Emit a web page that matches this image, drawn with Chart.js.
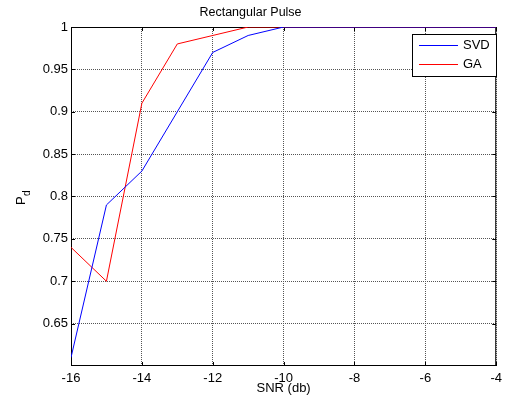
<!DOCTYPE html>
<html>
<head>
<meta charset="utf-8">
<script src="https://cdn.jsdelivr.net/npm/chart.js@4/dist/chart.umd.min.js"></script>
<style>
  body { margin: 0; background: #fff; }
  canvas { display: block; }
</style>
</head>
<body>
<canvas id="pd-chart" width="507" height="403"></canvas>
<script>
// data
const snrValues = [-16, -15, -14, -13, -12, -11, -10, -9, -8, -7, -6, -5, -4];
const svdValues = [0.61, 0.79, 0.83, 0.90, 0.97, 0.99, 1, 1, 1, 1, 1, 1, 1];
const gaValues = [0.74, 0.70, 0.91, 0.98, 0.99, 1, 1, 1, 1, 1, 1, 1, 1];
const xTickValues = [-16, -14, -12, -10, -8, -6, -4];
const yTickValues = [0.65, 0.7, 0.75, 0.8, 0.85, 0.9, 0.95, 1];

const FONT = "'Liberation Sans', Arial, sans-serif";

function toPoints(ys) {
    return snrValues.map((x, i) => ({ x: x, y: ys[i] }));
}

// frame, inward ticks, y label with subscript, legend inside the axes
const matlabLook = {
    id: "matlabLook",
    beforeDatasetsDraw(chart) {
        const ctx = chart.ctx;
        const a = chart.chartArea;
        ctx.save();
        ctx.strokeStyle = "#000";
        ctx.lineWidth = 1;
        ctx.strokeRect(a.left + 0.5, a.top + 0.5, a.right - a.left - 1, a.bottom - a.top - 1);
        const xs = chart.scales.x, ys = chart.scales.y;
        ctx.beginPath();
        xTickValues.forEach(v => {
            const px = Math.round(xs.getPixelForValue(v)) + 0.5;
            ctx.moveTo(px, a.bottom); ctx.lineTo(px, a.bottom - 4);
            ctx.moveTo(px, a.top); ctx.lineTo(px, a.top + 4);
        });
        yTickValues.forEach(v => {
            const py = Math.round(ys.getPixelForValue(v)) + 0.5;
            ctx.moveTo(a.left, py); ctx.lineTo(a.left + 4, py);
            ctx.moveTo(a.right, py); ctx.lineTo(a.right - 4, py);
        });
        ctx.stroke();
        ctx.restore();
    },
    afterDraw(chart) {
        const ctx = chart.ctx;
        const a = chart.chartArea;
        ctx.save();
        // x axis label
        ctx.fillStyle = "#000";
        ctx.font = "13px " + FONT;
        ctx.textAlign = "center";
        ctx.textBaseline = "middle";
        ctx.fillText("SNR (db)", (a.left + a.right) / 2, 388);
        // y axis label P_d
        ctx.translate(21, 201);
        ctx.rotate(-Math.PI / 2);
        ctx.textAlign = "left";
        ctx.textBaseline = "alphabetic";
        ctx.font = "13px " + FONT;
        ctx.fillText("P", -4, 4);
        ctx.font = "10px " + FONT;
        ctx.fillText("d", 5, 9);
        ctx.restore();

        // legend
        ctx.save();
        const bx = 412, by = 34, bw = 84, bh = 42;
        ctx.fillStyle = "#fff";
        ctx.fillRect(bx, by, bw, bh);
        ctx.strokeStyle = "#000";
        ctx.lineWidth = 1;
        ctx.strokeRect(bx + 0.5, by + 0.5, bw, bh);
        ctx.font = "13px " + FONT;
        ctx.textBaseline = "middle";
        ctx.textAlign = "left";
        chart.data.datasets.forEach((ds, i) => {
            const ly = 45.5 + i * 19;
            ctx.strokeStyle = ds.borderColor;
            ctx.beginPath();
            ctx.moveTo(419, ly);
            ctx.lineTo(458, ly);
            ctx.stroke();
            ctx.fillStyle = "#000";
            ctx.fillText(ds.label, 463, ly);
        });
        ctx.restore();
    }
};

new Chart(document.getElementById("pd-chart"), {
    type: "line",
    data: {
        datasets: [
            { label: "SVD", data: toPoints(svdValues), borderColor: "#0000ff", borderWidth: 1, pointRadius: 0, tension: 0, fill: false },
            { label: "GA", data: toPoints(gaValues), borderColor: "#ff0000", borderWidth: 1, pointRadius: 0, tension: 0, fill: false }
        ]
    },
    options: {
        responsive: false,
        animation: false,
        layout: { padding: { left: 0, right: 6, top: 0, bottom: 0 } },
        plugins: {
            legend: { display: false },
            tooltip: { enabled: false },
            title: {
                display: true,
                text: "Rectangular Pulse",
                color: "#000",
                font: { family: FONT, size: 12.5, weight: "normal" },
                padding: { top: 5, bottom: 7 }
            }
        },
        scales: {
            x: {
                type: "linear",
                min: -16,
                max: -4,
                afterBuildTicks: s => { s.ticks = xTickValues.map(v => ({ value: v })); },
                afterFit: s => { s.height = 37; },
                grid: { color: "#555", lineWidth: 1, drawTicks: false },
                border: { display: false, dash: [1, 1] },
                ticks: { color: "#000", font: { family: FONT, size: 13 }, padding: 5, maxRotation: 0, callback: v => String(v) }
            },
            y: {
                min: 0.6,
                max: 1,
                afterBuildTicks: s => { s.ticks = yTickValues.map(v => ({ value: v })); },
                afterFit: s => { s.width = 71; },
                grid: { color: "#555", lineWidth: 1, drawTicks: false },
                border: { display: false, dash: [1, 1] },
                ticks: { color: "#000", font: { family: FONT, size: 13 }, padding: 3, callback: v => String(Math.round(v * 100) / 100) }
            }
        }
    },
    plugins: [matlabLook]
});
</script>
</body>
</html>
